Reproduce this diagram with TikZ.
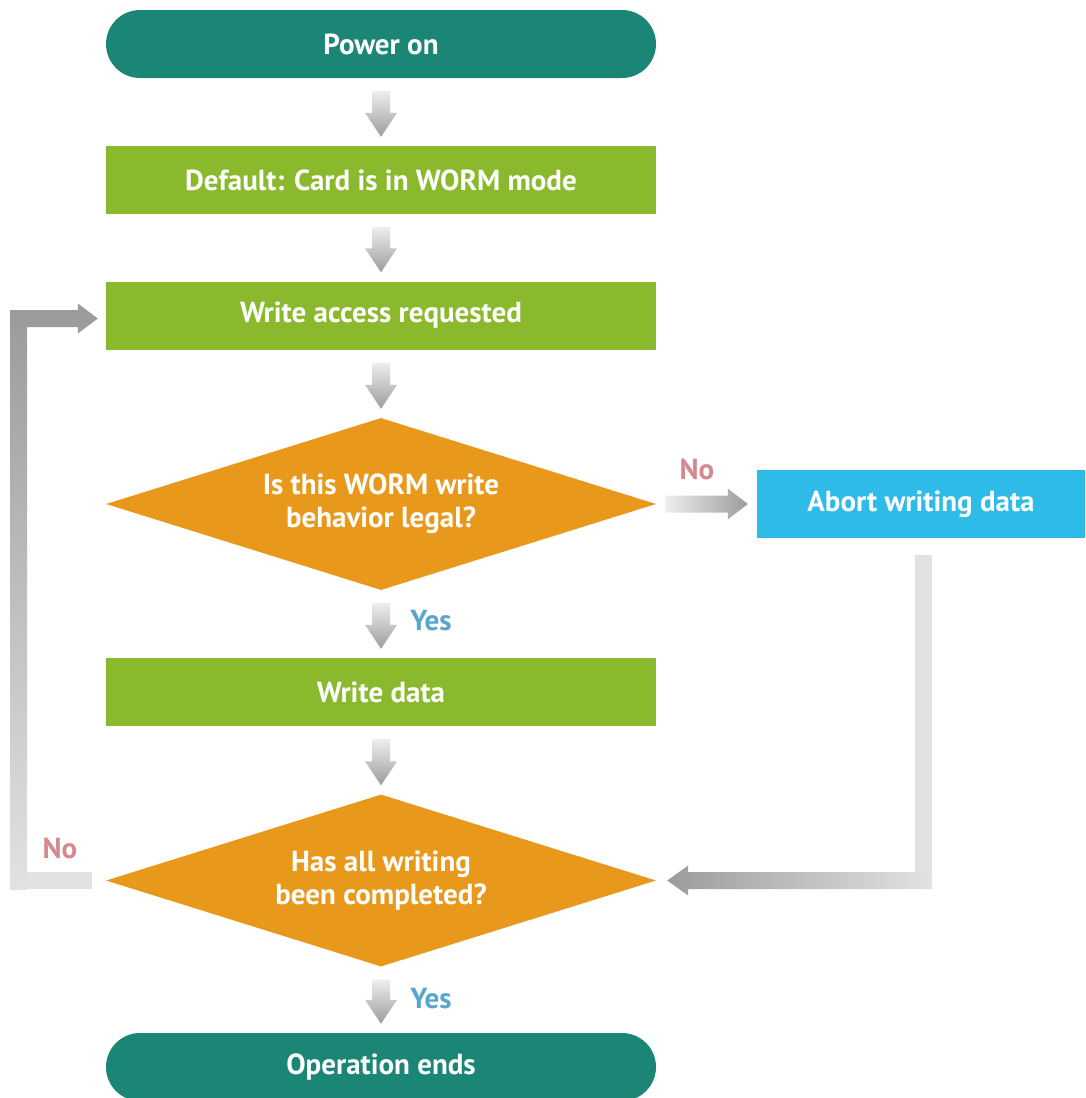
\documentclass[tikz,border=0pt]{standalone}
\usepackage{fontspec}
\setmainfont{PT Sans}
\usetikzlibrary{shapes.geometric,calc}

\definecolor{cTealBox}{HTML}{1B8676}
\definecolor{cGreenBox}{HTML}{8AB92D}
\definecolor{cOrangeBox}{HTML}{E8981A}
\definecolor{cBlueBox}{HTML}{2FBBE7}
\definecolor{cArrowLight}{HTML}{EEEEEE}
\definecolor{cArrowDark}{HTML}{9C9C9C}
\definecolor{cRail}{HTML}{E2E2E2}
\definecolor{cNoText}{HTML}{D4898E}
\definecolor{cYesText}{HTML}{5AA5CB}

\newcommand\boxfont{\bfseries\fontsize{29}{33}\selectfont}

% shaded downward flow arrow between two named nodes
\newcommand\flowdown[2]{%
  \shade[top color=cArrowLight, bottom color=cArrowDark]
    let \p1=($(#1.south)+(0,-13pt)$), \p2=($(#2.north)+(0,9pt)$) in
    (\x1-9pt,\y1) -- (\x1+9pt,\y1) -- (\x1+9pt,\y2+24pt) -- (\x1+16pt,\y2+24pt)
    -- (\x1,\y2) -- (\x1-16pt,\y2+24pt) -- (\x1-9pt,\y2+24pt) -- cycle;}

\begin{document}
\begin{tikzpicture}[x=1pt,y=-1pt,
  stepbox/.style={rectangle, fill=cGreenBox, text=white, minimum width=550pt,
    minimum height=68pt, inner sep=0pt, font=\boxfont},
  pill/.style={stepbox, fill=cTealBox, rounded corners=34pt},
  decision/.style={diamond, fill=cOrangeBox, text=white, aspect=3.2,
    minimum width=550pt, minimum height=172pt, inner sep=0pt, align=center,
    font=\boxfont},
  abortbox/.style={stepbox, fill=cBlueBox, minimum width=328pt},
  nolabel/.style={text=cNoText, font=\bfseries\fontsize{29}{32}\selectfont},
  yeslabel/.style={text=cYesText, font=\bfseries\fontsize{29}{32}\selectfont}]

\useasboundingbox (0,0) rectangle (1085,1098);

% main column
\node[pill]     (pwr)   at (381,44)    {Power on};
\node[stepbox]  (dflt)  at (381,180)   {Default: Card is in WORM mode};
\node[stepbox]  (wreq)  at (381,315.5) {Write access requested};
\node[decision] (dec1)  at (381,504)   {Is this WORM write\\behavior legal?};
\node[stepbox]  (wdata) at (381,692)   {Write data};
\node[decision] (dec2)  at (381,880.5) {Has all writing\\been completed?};
\node[pill]     (opend) at (381,1067)  {Operation ends};

% side branch
\node[abortbox] (abort) at (921,504) {Abort writing data};

% branch labels
\node[nolabel]  (lblNoA)  at (697,469) {No};
\node[yeslabel] (lblYesA) at (431,621) {Yes};
\node[nolabel]  (lblNoB)  at (60,848)  {No};
\node[yeslabel] (lblYesB) at (431,999) {Yes};

% vertical flow arrows
\flowdown{pwr}{dflt}
\flowdown{dflt}{wreq}
\flowdown{wreq}{dec1}
\flowdown{dec1}{wdata}
\flowdown{wdata}{dec2}
\flowdown{dec2}{opend}

% "No" branch to abort box
\shade[left color=cArrowLight, right color=cArrowDark]
  let \p1=($(dec1.east)+(9pt,0)$), \p2=($(abort.west)+(-9pt,0)$) in
  (\x1,\y1-8.5pt) -- (\x2-20pt,\y1-8.5pt) -- (\x2-20pt,\y1-15.5pt) -- (\x2,\y1)
  -- (\x2-20pt,\y1+15.5pt) -- (\x2-20pt,\y1+8.5pt) -- (\x1,\y1+8.5pt) -- cycle;

% return rail from abort box back to the completion check
\fill[cRail]
  let \p1=($(abort.south)+(2.5pt,-17pt)$), \p2=(dec2.east) in
  (\x1-8.5pt,\y1) rectangle (\x1+8.5pt,\y2-8.5pt);
\shade[left color=cArrowDark, right color=cRail]
  let \p1=($(abort.south)+(2.5pt,0)$), \p2=($(dec2.east)+(11pt,0)$) in
  (\x1+8.5pt,\y2+8.5pt) -- (\x2+21pt,\y2+8.5pt) -- (\x2+21pt,\y2+15pt) -- (\x2,\y2)
  -- (\x2+21pt,\y2-15pt) -- (\x2+21pt,\y2-8.5pt) -- (\x1+8.5pt,\y2-8.5pt) -- cycle;

% "No" loop back to write access request
\coordinate (railL) at (18.5,0);
\fill[cRail]
  let \p1=($(dec2.west)+(-14pt,0)$), \p2=(railL) in
  (\x2-8.5pt,\y1-8.5pt) rectangle (\x1,\y1+8.5pt);
\shade[bottom color=cRail, top color=cArrowDark]
  let \p1=(dec2.west), \p2=(railL), \p3=(wreq.west) in
  (\x2-8.5pt,\y1-8.5pt) rectangle (\x2+8.5pt,\y3-3pt);
\fill[cArrowDark]
  let \p2=(railL), \p3=($(wreq.west)+(-8pt,-3pt)$) in
  (\x2-8.5pt,\y3-8.5pt) -- (\x3-20pt,\y3-8.5pt) -- (\x3-20pt,\y3-15pt) -- (\x3,\y3)
  -- (\x3-20pt,\y3+15pt) -- (\x3-20pt,\y3+8.5pt) -- (\x2-8.5pt,\y3+8.5pt) -- cycle;

\end{tikzpicture}
\end{document}
